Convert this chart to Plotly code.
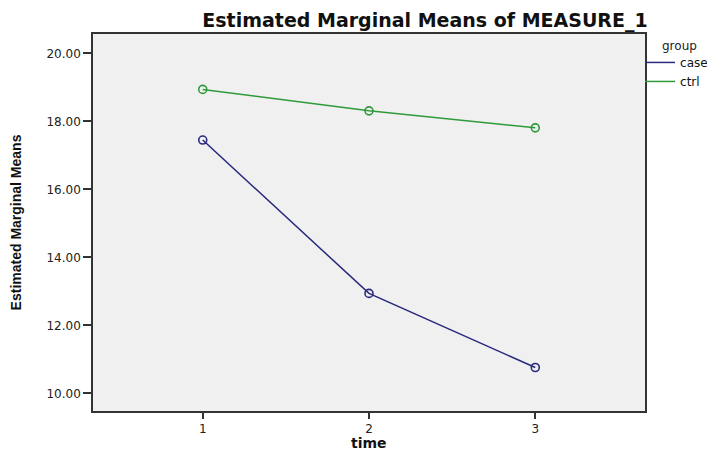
import plotly.graph_objects as go

time_points = [1, 2, 3]
case_means = [17.45, 12.94, 10.76]
ctrl_means = [18.94, 18.31, 17.81]
y_tick_vals = [10, 12, 14, 16, 18, 20]
y_tick_text = ["10.00", "12.00", "14.00", "16.00", "18.00", "20.00"]
x_tick_text = ["1", "2", "3"]

case_color = "#28297c"
ctrl_color = "#2e9a3a"

fig = go.Figure()
for name, vals, col in [("case", case_means, case_color), ("ctrl", ctrl_means, ctrl_color)]:
    fig.add_trace(go.Scatter(
        x=time_points, y=vals, mode="lines+markers", name=name, showlegend=False,
        line=dict(color=col, width=1.5),
        marker=dict(symbol="circle-open", size=8, color=col, line=dict(width=1.6, color=col)),
    ))
    fig.add_trace(go.Scatter(
        x=[None], y=[None], mode="lines", name=name, showlegend=True,
        line=dict(color=col, width=1.5),
    ))

# the page adds an 8px body margin, so the figure is 8px smaller than the window
fig.update_layout(
    width=707, height=443,
    margin=dict(l=85, r=70, t=26, b=40, autoexpand=False),
    paper_bgcolor="white",
    plot_bgcolor="#f0f0f0",
    title=dict(
        text="<b>Estimated Marginal Means of MEASURE_1</b>",
        x=417 / 707, xref="container", xanchor="center",
        y=1 - 12 / 443, yref="container", yanchor="middle",
        font=dict(family="DejaVu Sans", size=19, color="#111111"),
    ),
    legend=dict(
        x=0.991, xanchor="left", y=0.963, yanchor="top",
        font=dict(family="DejaVu Sans", size=12, color="#111111"),
        bgcolor="rgba(0,0,0,0)", itemwidth=30, tracegroupgap=0,
    ),
    annotations=[
        dict(
            text="group", xref="paper", yref="paper", x=1.027, y=0.968,
            xanchor="left", yanchor="middle", showarrow=False,
            font=dict(family="DejaVu Sans", size=12, color="#222222"),
        ),
        dict(
            text="<b>time</b>", xref="paper", yref="paper", x=0.5, y=-0.0849,
            xanchor="center", yanchor="middle", showarrow=False,
            font=dict(family="DejaVu Sans", size=14, color="#111111"),
        ),
    ],
    xaxis=dict(
        range=[0.34, 3.66], tickvals=time_points, ticktext=x_tick_text,
        showgrid=False, zeroline=False, automargin=False,
        showline=True, linecolor="#333333", linewidth=1.5, mirror=True,
        ticks="outside", ticklen=6, tickcolor="#333333", tickwidth=1.5,
        tickfont=dict(family="DejaVu Sans", size=12, color="#222222"),
    ),
    yaxis=dict(
        range=[9.48, 20.57], tickvals=y_tick_vals, ticktext=y_tick_text,
        showgrid=False, zeroline=False, automargin=False,
        showline=True, linecolor="#333333", linewidth=1.5, mirror=True,
        ticks="outside", ticklen=8, tickcolor="#333333", tickwidth=1.5,
        tickfont=dict(family="DejaVu Sans", size=12, color="#222222"),
        title=dict(text="<b>Estimated Marginal Means</b>", standoff=22,
                   font=dict(family="Liberation Sans", size=14, color="#111111")),
    ),
)

fig.write_html("out.html")
